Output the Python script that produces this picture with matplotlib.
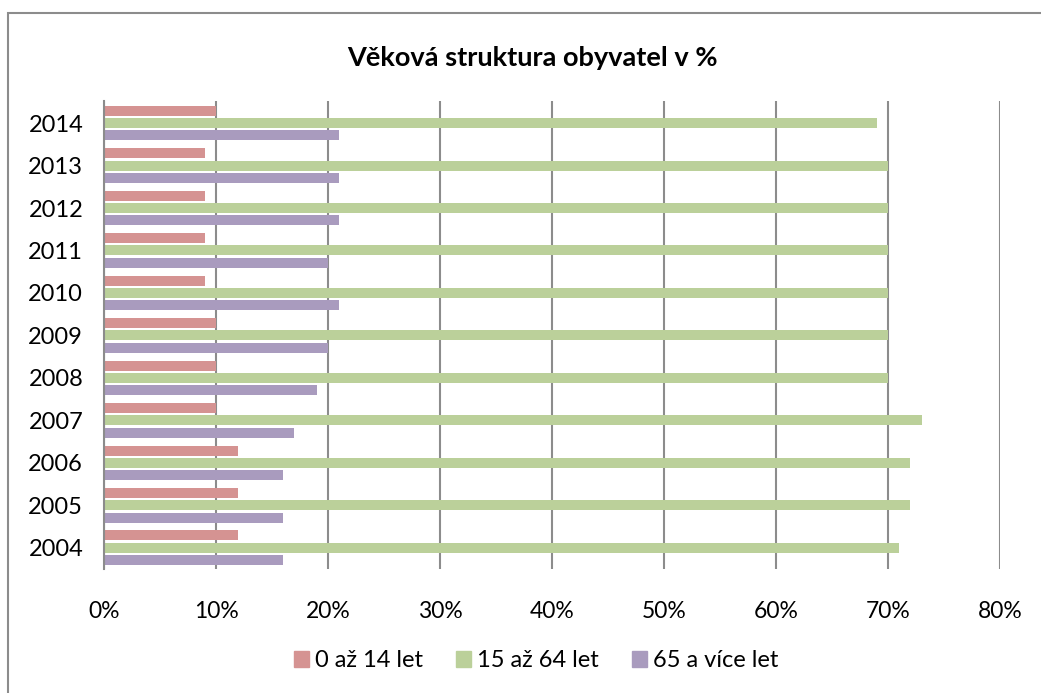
import matplotlib.pyplot as plt
import matplotlib.patches as mpatches
import numpy as np

years = ["2004", "2005", "2006", "2007", "2008", "2009", "2010", "2011", "2012", "2013", "2014"]
deti = [12, 12, 12, 10, 10, 10, 9, 9, 9, 9, 10]
produktivni = [71, 72, 72, 73, 70, 70, 70, 70, 70, 70, 69]
seniori = [16, 16, 16, 17, 19, 20, 21, 20, 21, 21, 21]
labels = ["0 až 14 let", "15 až 64 let", "65 a více let"]
colors = ["#D59392", "#BBD09A", "#A99BBE"]

plt.rcParams["font.family"] = ["Lato", "DejaVu Sans"]

fig = plt.figure(figsize=(10.41, 6.93), dpi=100)
ax = fig.add_axes([0.0999, 0.1789, 0.8607, 0.6754])

y = np.arange(len(years))
h = 0.235
off = 0.29
ax.barh(y + off, deti, height=h, color=colors[0], label=labels[0])
ax.barh(y, produktivni, height=h, color=colors[1], label=labels[1])
ax.barh(y - off, seniori, height=h, color=colors[2], label=labels[2])

ax.set_xlim(0, 80)
ax.set_ylim(-0.5, 10.52)
ax.set_xticks(range(0, 81, 10))
ax.set_xticklabels([f"{v}%" for v in range(0, 81, 10)], fontsize=16.5)
ax.set_yticks(y)
ax.set_yticklabels(years, fontsize=17)
ax.tick_params(length=0, pad=15)
ax.tick_params(axis="x", pad=23)
ax.xaxis.grid(True, color="#8c8c8c", linewidth=1.5)
ax.set_axisbelow(True)
for s in ["top", "right", "bottom"]:
    ax.spines[s].set_visible(False)
ax.spines["left"].set_color("#8c8c8c")
ax.spines["left"].set_linewidth(1.5)

fig.text(0.511, 0.917, "Věková struktura obyvatel v %", ha="center", va="center",
         fontsize=19.5, fontweight="bold")

handles = [mpatches.Patch(color=c) for c in colors]
fig.legend(handles, labels, loc="center", bbox_to_anchor=(0.515, 0.047), ncol=3,
           frameon=False, fontsize=17, handlelength=0.65, handleheight=0.65,
           handletextpad=0.25, columnspacing=1.4)

# ramecek grafu - vpravo a dole je oriznuty
fig.patches.append(mpatches.Rectangle((8 / 1041, -0.05), 1.1, 1.05 - 13 / 693,
                                      transform=fig.transFigure, fill=False,
                                      edgecolor="#8c8c8c", linewidth=1.5))

fig.savefig("out.png", dpi=100)
